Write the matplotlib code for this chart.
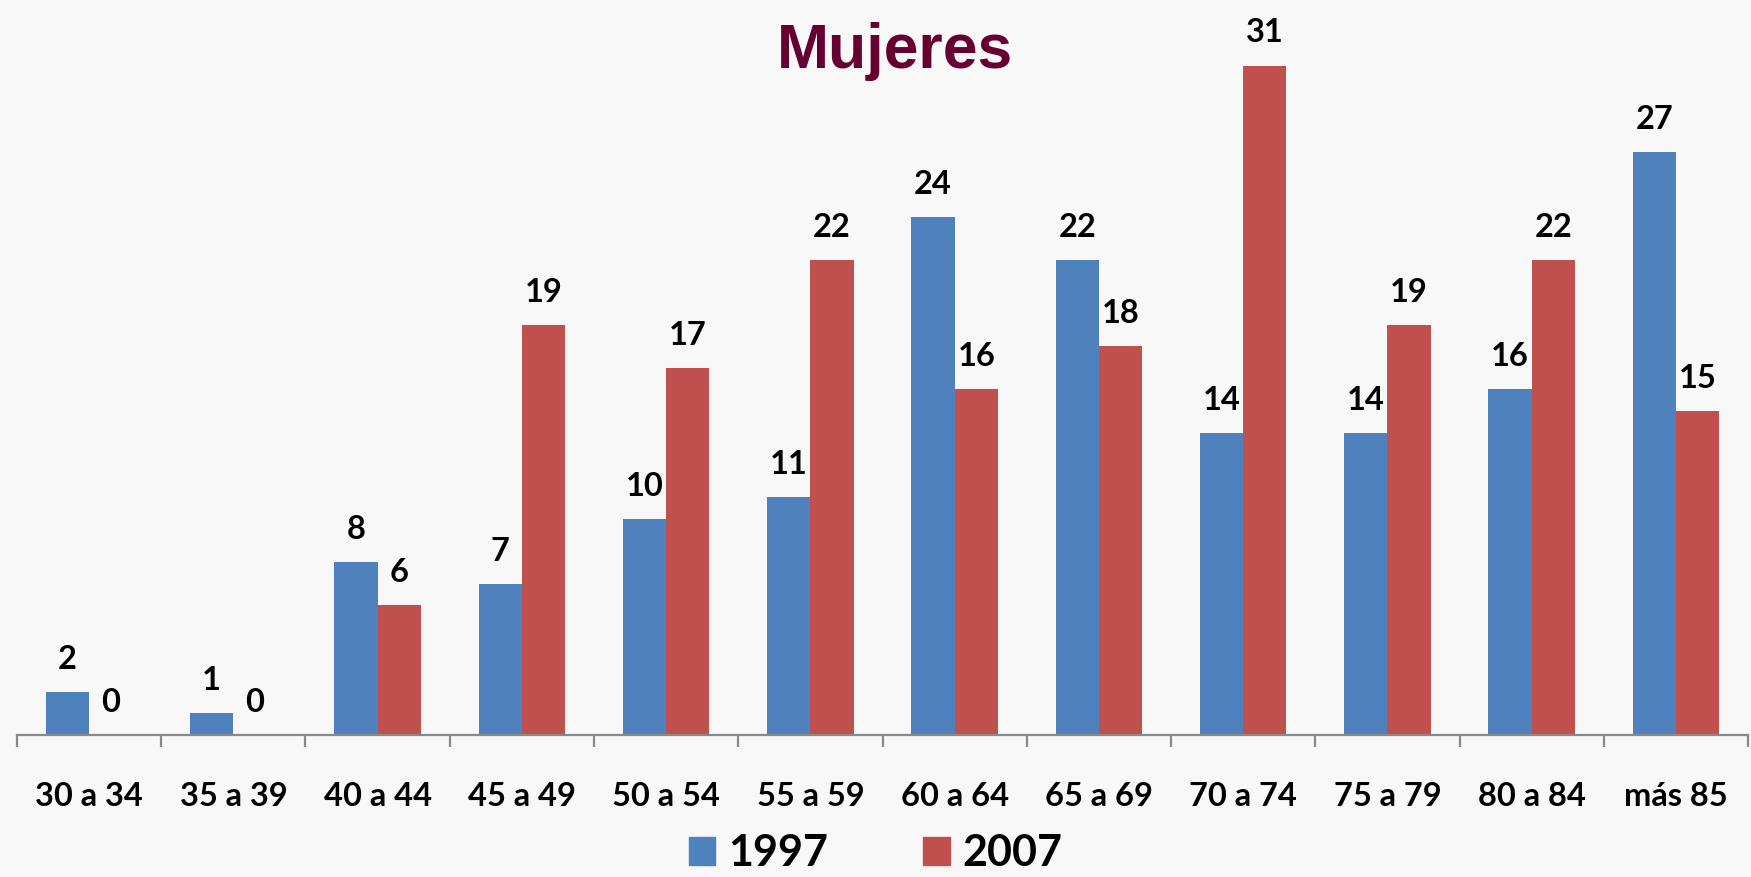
import matplotlib.pyplot as plt
import numpy as np
from matplotlib.patches import Patch

# age groups and counts per year
grupos = ['30 a 34', '35 a 39', '40 a 44', '45 a 49', '50 a 54', '55 a 59',
          '60 a 64', '65 a 69', '70 a 74', '75 a 79', '80 a 84', 'más 85']
v1997 = [2, 1, 8, 7, 10, 11, 24, 22, 14, 14, 16, 27]
v2007 = [0, 0, 6, 19, 17, 22, 16, 18, 31, 19, 22, 15]
series = ['1997', '2007']

azul = '#4F81BD'
rojo = '#C0504D'
fuente = 'Lato'

fig = plt.figure(figsize=(17.51, 8.77), dpi=100)
fig.patch.set_facecolor('#f8f8f9')
ax = fig.add_axes([0.0097, 0.1619, 0.9886, 0.838])
ax.set_facecolor('none')

x = np.arange(len(grupos))
w = 0.3
b1 = ax.bar(x - w / 2, v1997, w, color=azul)
b2 = ax.bar(x + w / 2, v2007, w, color=rojo)

for bars in (b1, b2):
    for r in bars:
        ax.annotate(str(int(r.get_height())), (r.get_x() + r.get_width() / 2, r.get_height()),
                    xytext=(0, 13), textcoords='offset points', ha='center', va='bottom',
                    fontsize=23.5, fontweight='bold', family=fuente, color='black')

ax.set_xlim(-0.5, len(grupos) - 0.5)
ax.set_ylim(0, 34.03)
ax.set_yticks([])
for s in ['top', 'right', 'left']:
    ax.spines[s].set_visible(False)
ax.spines['bottom'].set_color('#898989')
ax.spines['bottom'].set_linewidth(1.6)

# ticks between groups, labels centred under each group
ax.set_xticks(np.arange(len(grupos) + 1) - 0.5)
ax.set_xticklabels([])
ax.set_xticks(x, minor=True)
ax.set_xticklabels(grupos, minor=True, fontsize=23.5, fontweight='bold', family=fuente)
ax.tick_params(axis='x', which='major', direction='out', length=8.6, width=1.6, color='#898989')
ax.tick_params(axis='x', which='minor', length=0, pad=34)

fig.text(0.511, 0.941, 'Mujeres', ha='center', va='center', fontsize=45, fontweight='bold',
         family='Liberation Sans', color='#660033')

handles = [Patch(color=azul, label=series[0]), Patch(color=rojo, label=series[1])]
leg = fig.legend(handles=handles, loc='center', bbox_to_anchor=(0.5, 0.027), ncol=2,
                 frameon=False, prop={'family': fuente, 'weight': 'bold', 'size': 31},
                 handlelength=0.62, handleheight=0.62, handletextpad=0.3, columnspacing=2.2,
                 borderpad=0.1)

fig.savefig('out.png', dpi=100, facecolor=fig.get_facecolor())
